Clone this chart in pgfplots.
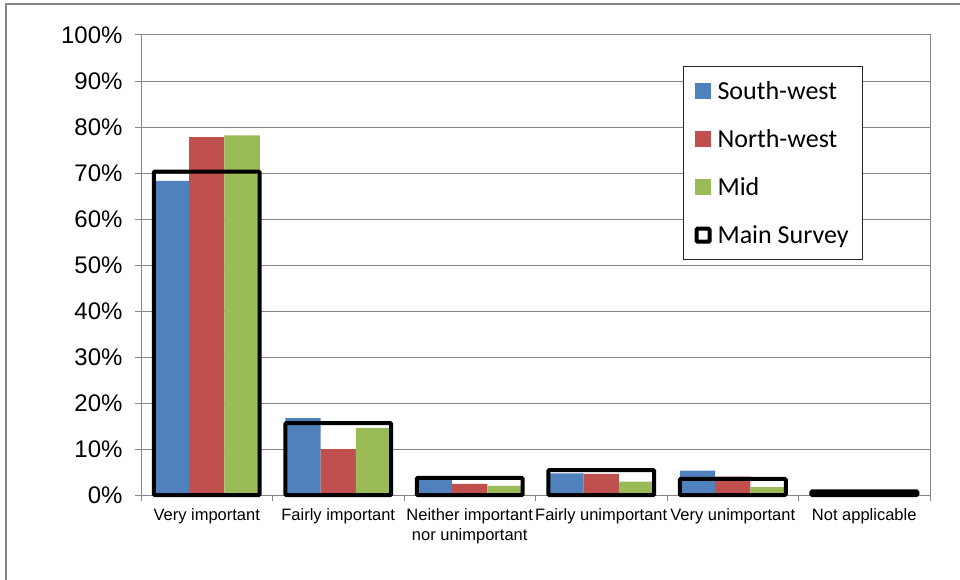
\documentclass[border=0pt]{standalone}
\usepackage{pgfplots}
\usepackage{pgfplotstable}
\pgfplotsset{compat=1.18}
\usepackage{fontspec}
\setmainfont{Liberation Sans}
\newfontfamily\calibri{Carlito}

\definecolor{swblue}{RGB}{79,129,189}
\definecolor{nwred}{RGB}{192,80,77}
\definecolor{midgreen}{RGB}{155,187,89}
\definecolor{gridgray}{RGB}{134,134,134}

% share of answers per category, in percent
\pgfplotstableread{
idx sw   nw   mid  main
0   68.3 77.8 78.2 70.3
1   16.7 10.0 14.6 15.6
2   3.3  2.4  2.0  3.7
3   4.7  4.6  2.9  5.4
4   5.3  4.0  1.7  3.5
5   0    0    0    0.8
}\answers

\begin{document}
\begin{tikzpicture}
\path[use as bounding box] (0pt,0pt) rectangle (960pt,-580pt);
\draw[gridgray, line width=1.5pt] (6pt,-580pt) -- (6pt,-4pt) -- (960pt,-4pt);
\begin{axis}[
    at={(141pt,-495pt)}, anchor=south west,
    width=789pt, height=460pt, scale only axis,
    ybar, bar width=0.2687,
    clip=false,
    xmin=-0.5, xmax=5.5, ymin=0, ymax=100,
    ytick={0,10,...,100},
    yticklabel={\pgfmathprintnumber{\tick}\%},
    yticklabel style={font=\fontsize{24}{26}\selectfont, xshift=-9pt},
    /pgf/number format/assume math mode=true,
    xtick={-0.5,0.5,...,5.5}, xticklabels={},
    extra x ticks={0,1,2,3,4,5},
    extra x tick labels={Very important, Fairly important, Neither important\\nor unimportant, Fairly unimportant, Very unimportant, Not applicable},
    extra x tick style={major tick length=0pt, grid=none,
        xticklabel style={align=center, font=\fontsize{16.5}{20}\selectfont, yshift=-10pt}},
    tick pos=left, tick align=outside,
    major tick length=6pt,
    tick style={gridgray, line width=1pt},
    ymajorgrids, xmajorgrids=false,
    grid style={gridgray, line width=1pt},
    axis line style={gridgray, line width=1pt},
    legend cell align=left,
    legend style={at={(0.687,0.933)}, anchor=north west,
        draw=black!85, line width=1pt,
        font=\calibri\fontsize{26}{30}\selectfont,
        inner xsep=11pt, inner ysep=12pt,
        nodes={inner sep=3pt},
        /tikz/every odd column/.append style={column sep=3pt},
        row sep=22.5pt},
]
\addplot[fill=swblue, draw=none, bar shift=-0.2687,
    legend image code/.code={\fill[swblue] (0pt,-8pt) rectangle (16pt,8pt);}]
    table[x=idx, y=sw]{\answers};
\addlegendentry{South-west}
\addplot[fill=nwred, draw=none, bar shift=0,
    legend image code/.code={\fill[nwred] (0pt,-8pt) rectangle (16pt,8pt);}]
    table[x=idx, y=nw]{\answers};
\addlegendentry{North-west}
\addplot[fill=midgreen, draw=none, bar shift=0.2687,
    legend image code/.code={\fill[midgreen] (0pt,-8pt) rectangle (16pt,8pt);}]
    table[x=idx, y=mid]{\answers};
\addlegendentry{Mid}
\addplot[fill=none, draw=black, line width=4pt, bar width=0.806, bar shift=0,
    rounded corners=1pt,
    legend image code/.code={\draw[black, line width=4pt, fill=white, rounded corners=1pt] (2pt,-6.5pt) rectangle (15pt,6.5pt);}]
    table[x=idx, y=main]{\answers};
\addlegendentry{Main Survey}
\end{axis}
\end{tikzpicture}
\end{document}
